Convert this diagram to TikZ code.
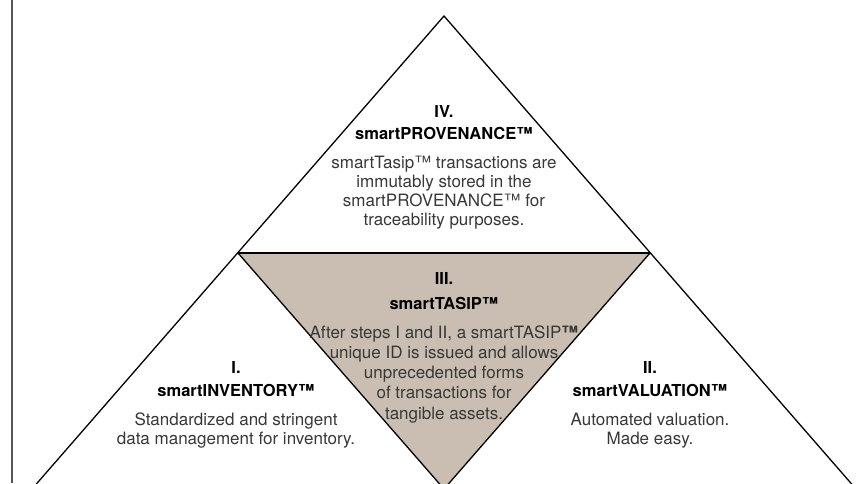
\documentclass[tikz,border=0pt]{standalone}
\usepackage{fontspec}
\setmainfont{TeX Gyre Heros}
\definecolor{tasip}{HTML}{C9BEB1}
\definecolor{bodytxt}{HTML}{383838}
\definecolor{edgegrey}{HTML}{555555}
\tikzset{
  head/.style={anchor=base, inner sep=0pt, font=\fontsize{16.5}{19}\selectfont\bfseries, text=black},
  body/.style={anchor=base, inner sep=0pt, font=\fontsize{17}{20}\selectfont, text=bodytxt},
  edge/.style={draw=black, line width=1.3pt, line join=miter},
}
\begin{document}
\begin{tikzpicture}[x=1pt,y=-1pt]
\useasboundingbox (0,0) rectangle (863,483);
\clip (0,0) rectangle (863,483);
\fill[white] (0,0) rectangle (863,483);
% key points
\coordinate (apex) at (444,16);
\coordinate (bl) at (32,489);
\coordinate (br) at (856,489);
\coordinate (ml) at (238,253);
\coordinate (mr) at (650,253);
\coordinate (mb) at (444,489);
\coordinate (vt) at (12,0);
\coordinate (vb) at (12,483);
% left rule
\draw[edgegrey, line width=2pt] (vt) -- (vb);
% centre triangle
\fill[tasip] (ml) -- (mr) -- (mb) -- cycle;
\draw[edge] (bl) -- (apex) -- (br);
\draw[edge] (ml) -- (mb) -- (mr);
\draw[black, line width=2pt] (ml) -- (mr);
% IV
\node[head] (t4a) at (444,117) {IV.};
\node[head] (t4b) at (444,139) {smartPROVENANCE™};
\node[body] (t4c) at (444,168) {smartTasip™ transactions are};
\node[body] (t4d) at (444,187) {immutably stored in the};
\node[body] (t4e) at (444,206) {smartPROVENANCE™ for};
\node[body] (t4f) at (444,225) {traceability purposes.};
% III
\node[head] (t3a) at (444,284) {III.};
\node[head] (t3b) at (444,309) {smartTASIP™};
\node[body] (t3c) at (444,338) {After steps I and II, a smartTASIP{\bfseries ™}};
\node[body] (t3d) at (444,358) {unique ID is issued and allows};
\node[body] (t3e) at (444,378) {unprecedented forms};
\node[body] (t3f) at (444,398) {of transactions for};
\node[body] (t3g) at (444,419) {tangible assets.};
% I
\node[head] (t1a) at (236,373) {I.};
\node[head] (t1b) at (236,396) {smartINVENTORY™};
\node[body] (t1c) at (236,425) {Standardized and stringent};
\node[body] (t1d) at (236,444) {data management for inventory.};
% II
\node[head] (t2a) at (650,373) {II.};
\node[head] (t2b) at (650,396) {smartVALUATION™};
\node[body] (t2c) at (650,425) {Automated valuation.};
\node[body] (t2d) at (650,444) {Made easy.};
\end{tikzpicture}
\end{document}
